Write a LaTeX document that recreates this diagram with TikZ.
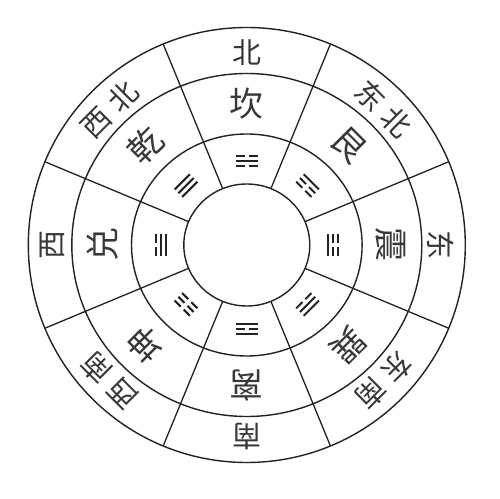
\documentclass[tikz,border=0pt]{standalone}
\usepackage{fontspec}
\newfontfamily\cjk{Noto Sans CJK SC}
\definecolor{ink}{HTML}{222222}
\definecolor{textink}{HTML}{383838}
\newcommand\gap{\kern 8pt}
\newcommand\yao[2]{%
  \ifnum#2=1
    \draw[yaoline] (-10.8,#1) -- (10.8,#1);
  \else
    \draw[yaoline] (-10.8,#1) -- (-2.1,#1) (2.1,#1) -- (10.8,#1);
  \fi}
\begin{document}
\begin{tikzpicture}[x=1pt,y=1pt,
  ring/.style={draw=ink, line width=1.4pt},
  spoke/.style={draw=ink, line width=1.3pt},
  yaoline/.style={draw=ink, line width=2pt, line cap=butt},
  outerlabel/.style={text=textink, inner sep=0pt, font=\cjk\fontsize{29}{29}\selectfont},
  innerlabel/.style={text=textink, inner sep=0pt, font=\cjk\fontsize{34}{34}\selectfont}]
\def\cx{246.8}\def\cy{253}
\useasboundingbox (0,0) rectangle (500,498);
\fill[white] (0,0) rectangle (500,498);
\coordinate (c) at (\cx,\cy);
% rings
\draw[ring] (c) ellipse [x radius=218.5, y radius=217.5];
\draw[ring] (c) ellipse [x radius=175, y radius=171.5];
\draw[ring] (c) ellipse [x radius=115.3, y radius=111];
\draw[ring] (c) ellipse [x radius=63, y radius=61];
% spokes
\foreach \a in {22.5,67.5,...,337.5}{
  \draw[spoke] ({\cx+63*cos(\a)},{\cy+61*sin(\a)}) -- ({\cx+218.5*cos(\a)},{\cy+217.5*sin(\a)});
}
% labels and trigrams
\foreach \a/\o/\m/\ba/\bb/\bc in {
   90/北/坎/0/1/0,
   45/东\gap 北/艮/0/0/1,
    0/东/震/1/0/0,
  -45/东\gap 南/巽/0/1/1,
  -90/南/离/1/0/1,
 -135/西\gap 南/坤/0/0/0,
  180/西/兑/1/1/0,
  135/西\gap 北/乾/1/1/1}{
  \node[outerlabel, rotate=\a-90] (o\a) at ({\cx+194*cos(\a)},{\cy+192*sin(\a)}) {\o};
  \node[innerlabel, rotate=\a-90] (m\a) at ({\cx+144*cos(\a)},{\cy+141*sin(\a)}) {\m};
  \begin{scope}[shift={({\cx+86*cos(\a)},{\cy+84*sin(\a)})}, rotate=\a-90]
    \yao{-5.3}{\ba}
    \yao{0}{\bb}
    \yao{5.3}{\bc}
  \end{scope}
}
\end{tikzpicture}
\end{document}
